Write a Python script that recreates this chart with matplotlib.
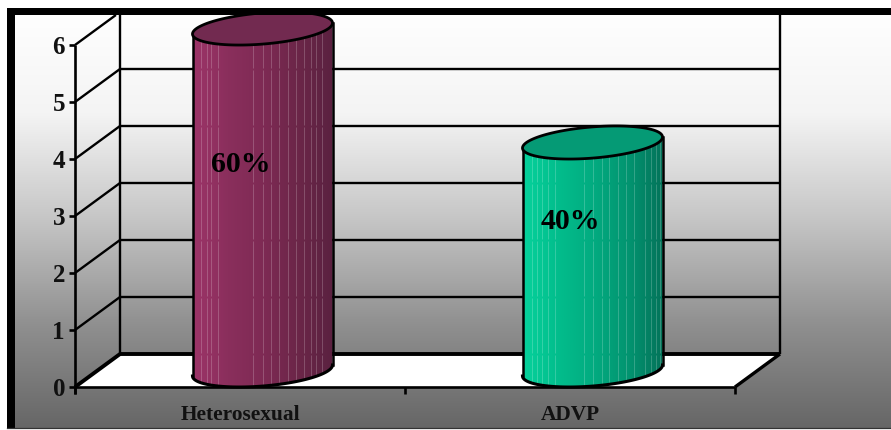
import numpy as np
import matplotlib
matplotlib.use("Agg")
import matplotlib.pyplot as plt
from matplotlib.colors import LinearSegmentedColormap
from matplotlib.patches import Polygon, Rectangle

categories = ["Heterosexual", "ADVP"]
values = [6, 4]
value_labels = ["60%", "40%"]
y_ticks = [0, 1, 2, 3, 4, 5, 6]
body_stops = [
    ["#9c3468", "#8a2f5c", "#7e2a54", "#6b2648", "#5a2140"],
    ["#06d29c", "#02bd8c", "#02ab80", "#029470", "#047259"],
]
cap_colors = ["#722a50", "#059a75"]
streak_offsets = [
    [8, 14, 18, 25, 60, 70, 78, 86, 95, 103, 111, 118, 123, 129],
    [9, 14, 19, 25, 32, 61, 70, 79, 86, 95, 103, 111, 122, 128, 133, 137],
]

W, H = 891, 430
PX_X = 330.0   # pixels per category along the floor
PX_Y = 57.0    # pixels per value unit
X0, Y0 = 75.0, 387.0

# Oblique depth of the 3D box, as (categories, value units)
DX, DY = 45 / PX_X, 33 / PX_Y
RX = 70 / PX_X           # cylinder radius
RY, SHEAR = 15.6 / PX_Y, 5.5 / PX_Y
YMAX = 6

SERIF = "Liberation Serif"
fig = plt.figure(figsize=(W / 100, H / 100), dpi=100, facecolor="white")
ax = fig.add_axes([0, 0, 1, 1])
ax.set_xlim(-X0 / PX_X, (W - X0) / PX_X)
ax.set_ylim((Y0 - H) / PX_Y, Y0 / PX_Y)
ax.axis("off")
xl, yl = ax.get_xlim(), ax.get_ylim()
xpx, ypx = 1 / PX_X, 1 / PX_Y

# Frame with the white-to-grey chart-area gradient
bg = LinearSegmentedColormap.from_list("bg", ["#ffffff", "#f4f4f4", "#c6c6c6", "#909090", "#666666"])
frame_left, frame_right = xl[0] + 7 * xpx, xl[1]
frame_top, frame_bottom = yl[1] - 8 * ypx, yl[0] + 1 * ypx
ax.imshow(np.linspace(0, 1, 256)[:, None], cmap=bg, aspect="auto", zorder=0,
          extent=(frame_left, frame_right, frame_bottom, frame_top), origin="upper")
ax.set_xlim(xl)
ax.set_ylim(yl)
ax.add_patch(Rectangle((frame_left, frame_top - 7 * ypx), frame_right - frame_left, 7 * ypx,
                       fc="black", ec="none", zorder=6))
ax.add_patch(Rectangle((frame_left, frame_bottom), 8 * xpx, frame_top - frame_bottom,
                       fc="black", ec="none", zorder=6))
ax.plot([frame_left, frame_right], [frame_bottom + ypx] * 2, color="#333333", lw=0.9, zorder=6)

# Floor of the box
n = len(categories)
ax.add_patch(Polygon([(0, 0), (n, 0), (n + DX, DY), (DX, DY)], fc="white", ec="none", zorder=1))

line = dict(color="black", solid_capstyle="butt", zorder=2)
top_clip = frame_top - 7 * ypx

# Gridlines on the back and side walls
for v in y_ticks[1:]:
    ytop = v + DY
    if ytop <= top_clip:
        ax.plot([DX, n + DX], [ytop, ytop], lw=1.7, **line)
        ax.plot([0, DX], [v, ytop], lw=1.7, **line)
    else:
        frac = (top_clip - v) / DY
        ax.plot([0, DX * frac], [v, top_clip], lw=1.7, **line)
ax.plot([DX, DX], [DY, top_clip], lw=1.7, **line)
ax.plot([n + DX, n + DX], [DY, top_clip], lw=1.7, **line)
ax.plot([DX, n + DX], [DY, DY], lw=2.8, **line)
ax.plot([0, DX], [0, DY], lw=2.8, **line)
ax.plot([n, n + DX], [0, DY], lw=2.4, **line)

# Cylinders
t = np.linspace(0, 2 * np.pi, 241)
for i, v in enumerate(values):
    cx = i + 0.5 + DX / 2
    cy = DY / 2
    ex = RX * np.cos(t)
    ey = RY * np.sin(t) + SHEAR * np.cos(t)
    # Lower half of the base ellipse, running left to right
    half = np.linspace(np.pi, 2 * np.pi, 121)
    bx = cx + RX * np.cos(half)
    by = cy + RY * np.sin(half) + SHEAR * np.cos(half)
    side = np.column_stack([
        np.r_[cx - RX, bx, cx + RX],
        np.r_[cy + v - SHEAR, by, cy + v + SHEAR],
    ])
    cmap = LinearSegmentedColormap.from_list(f"body{i}", body_stops[i])
    img = ax.imshow(np.linspace(0, 1, 256)[None, :], cmap=cmap, aspect="auto", zorder=3,
                    extent=(cx - RX, cx + RX, cy - RY - SHEAR, cy + v + RY + SHEAR))
    clip = Polygon(side, closed=True, fc="none", ec="none", transform=ax.transData)
    ax.add_patch(clip)
    img.set_clip_path(clip)
    # Pale vertical banding, broken where a gridline passes behind the body
    levels = [cy - RY - SHEAR] + [g + DY for g in y_ticks] + [cy + v + RY]
    levels = sorted(l for l in levels if l <= cy + v + RY)
    for off in streak_offsets[i]:
        sx = cx - RX + off * xpx
        for lo, hi in zip(levels[:-1], levels[1:]):
            s, = ax.plot([sx, sx], [lo + 1.2 * ypx, hi - 1.2 * ypx], color="white", alpha=0.2,
                         lw=0.7, zorder=3.1, solid_capstyle="butt")
            s.set_clip_path(clip)
    ax.plot(side[1:-1, 0], side[1:-1, 1], color="black", lw=2.2, zorder=4)
    ax.plot([cx - RX] * 2, [cy - SHEAR, cy + v - SHEAR], color="black", lw=1.8, zorder=4)
    ax.plot([cx + RX] * 2, [cy + SHEAR, cy + v + SHEAR], color="black", lw=1.8, zorder=4)
    ax.fill(cx + ex, cy + v + ey, fc=cap_colors[i], ec="black", lw=2.0, zorder=5)
    ax.text(cx - 22 * xpx, cy + v / 2 + 0.62, value_labels[i], family=SERIF, weight="bold", fontsize=21.5,
            ha="center", va="center", color="black", zorder=6)

# Front axes, ticks and labels
ax.plot([0, 0], [-7 * ypx, YMAX], lw=1.9, **line)
ax.plot([0, n], [0, 0], lw=1.9, **line)
for v in y_ticks:
    ax.plot([-6 * xpx, 0], [v, v], lw=1.9, **line)
    ax.text(-10 * xpx, v - 2.5 * ypx, str(v), family=SERIF, weight="bold", fontsize=18, ha="right", va="center",
            color="#111111", zorder=6)
for k in range(n + 1):
    ax.plot([k, k], [-7 * ypx, 0], lw=1.9, **line)
for k, name in enumerate(categories):
    ax.text(k + 0.5, -28 * ypx, name, family=SERIF, weight="bold", fontsize=15.4, ha="center", va="center",
            color="#111111", zorder=6)

fig.savefig("out.png", dpi=100)
